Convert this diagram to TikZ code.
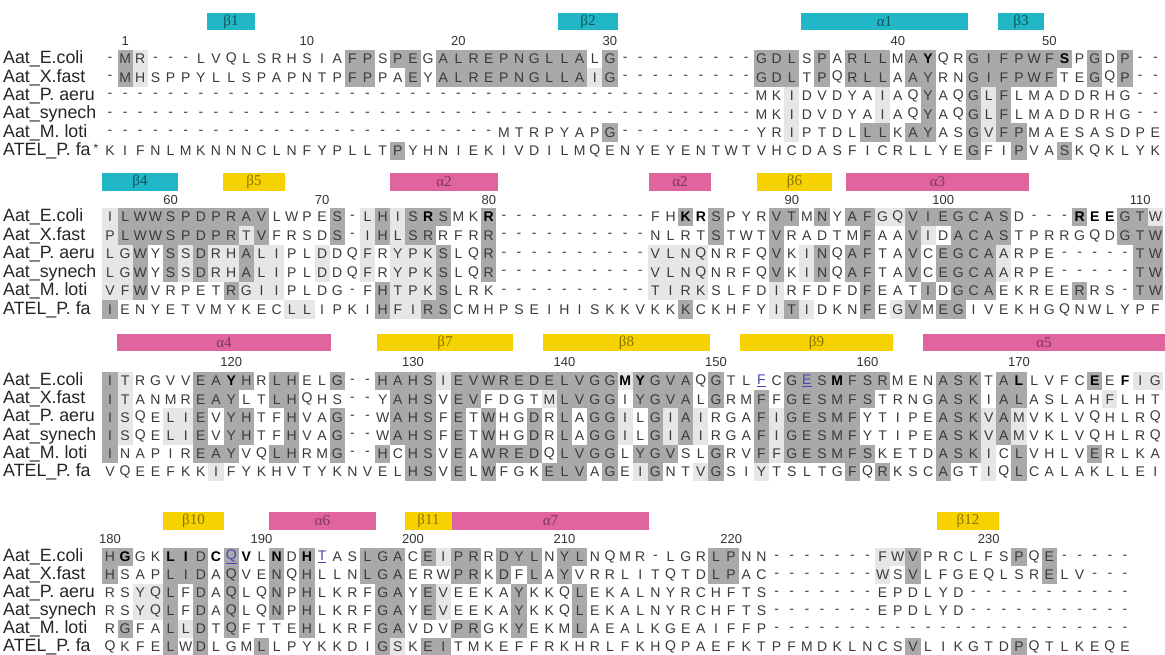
\documentclass[tikz,border=0pt]{standalone}
\usepackage{fontspec}
\setmainfont{Liberation Sans}
\newfontfamily\barfont{Liberation Serif}
\usepackage{tikz}

\definecolor{helixpink}{HTML}{E0649E}
\definecolor{strandcyan}{HTML}{22B7C6}
\definecolor{strandyellow}{HTML}{F6D300}
\definecolor{shdark}{HTML}{A9A9A9}
\definecolor{shlight}{HTML}{E6E6E6}
\definecolor{restext}{HTML}{3A3A3A}
\definecolor{markblue}{HTML}{4646B4}

\newcommand\colw{15.15}
\newcommand\xzero{110}

% one alignment row: id, y, residues, shading (0/1/2 plain, 3/4/5 bold, 6/7 blue)
\newcommand\seqrow[4]{\def\rowid{#1}\def\ry{#2}\def\cx{0}\cellloop#3\relax#4\relax}
\def\cellloop#1#2\relax#3#4\relax{%
  \pgfmathtruncatemacro\cx{\cx+1}%
  \drawcell{#1}{#3}%
  \ifx\relax#2\relax\else\cellloop#2\relax#4\relax\fi}
\newcommand\drawcell[2]{%
  \pgfmathsetmacro\px{\xzero+(\cx-1)*\colw}%
  \ifcase#2\relax
     \node[res] (\rowid-\cx) at (\px,\ry) {#1};%
  \or\node[res,fill=shlight] (\rowid-\cx) at (\px,\ry) {#1};%
  \or\node[res,fill=shdark] (\rowid-\cx) at (\px,\ry) {#1};%
  \or\node[res,resbold] (\rowid-\cx) at (\px,\ry) {#1};%
  \or\node[res,resbold,fill=shlight] (\rowid-\cx) at (\px,\ry) {#1};%
  \or\node[res,resbold,fill=shdark] (\rowid-\cx) at (\px,\ry) {#1};%
  \or\node[res,text=markblue] (\rowid-\cx) at (\px,\ry) {\underline{#1}};%
  \or\node[res,text=markblue,fill=shdark] (\rowid-\cx) at (\px,\ry) {\underline{#1}};%
  \fi}

\begin{document}
\begin{tikzpicture}
[x=1pt, y=-1pt,
 res/.style={minimum width=15.15pt, minimum height=18.4pt, inner sep=0pt, text=restext, font=\fontsize{14}{14}\selectfont},
 resbold/.style={text=black, font=\fontsize{14}{14}\selectfont\bfseries},
 seqname/.style={anchor=west, inner sep=0pt, text=black!85, font=\fontsize{17.8}{17.8}\selectfont},
 numlabel/.style={inner sep=0pt, text=black!80, font=\fontsize{13}{13}\selectfont},
 sbar/.style={minimum height=17.5pt, inner sep=0pt, font=\barfont\fontsize{15}{15}\selectfont},
 cyanbar/.style={sbar, fill=strandcyan, text=strandcyan!45!black},
 yellowbar/.style={sbar, fill=strandyellow, text=strandyellow!55!black},
 pinkbar/.style={sbar, fill=helixpink, text=helixpink!55!black}]
\fill[white] (0,0) rectangle (1165,654);
\useasboundingbox (0,0) rectangle (1165,654);

% block 1
\node[cyanbar, minimum width=48pt] (b1) at (231,21.5) {β1};
\node[cyanbar, minimum width=60pt] (b2) at (588,21.5) {β2};
\node[cyanbar, minimum width=167pt] (a1) at (884.5,21.5) {α1};
\node[cyanbar, minimum width=46pt] (b3) at (1021,21.5) {β3};
\foreach \c/\t in {2/1,14/10,24/20,34/30,53/40,63/50}
  \node[numlabel] (numA\t) at ({\xzero+(\c-1)*\colw},41) {\t};
\node[seqname] (nameA1) at (3,59) {Aat\_E.coli};
\node[seqname] (nameA2) at (3,77.4) {Aat\_X.fast};
\node[seqname] (nameA3) at (3,95.8) {Aat\_P. aeru};
\node[seqname] (nameA4) at (3,114.2) {Aat\_synech};
\node[seqname] (nameA5) at (3,132.6) {Aat\_M. loti};
\node[seqname] (nameA6) at (3,151) {ATEL\_P. fa\,\raisebox{0.3ex}{\fontsize{12}{12}\selectfont*}};
\seqrow{ecA}{59}{-MR---LVQL SRHSIAFPSP EGALREPNGL LALG------ ---GDLSPAR LLMAYQRGIF PWFSPGDP--}{0210000000 0000002202 2022222222 2202000000 0002220202 2202500222 2225020200}
\seqrow{xfA}{77.4}{-MHSPPYLLS PAPNTPFPPA EYALREPNGL LAIG------ ---GDLTPQR LLAAYRNGIF PWFTEGQP--}{0210000000 0000002200 2022222222 2212000000 0002220202 2202200222 2220020200}
\seqrow{paA}{95.8}{---------- ---------- ---------- ---------- ---MKIDVDY AIAQYAQGLF LMADDRHG--}{0000000000 0000000000 0000000000 0000000000 0000010000 0100200212 0000000000}
\seqrow{syA}{114.2}{---------- ---------- ---------- ---------- ---MKIDVDY AIAQYAQGLF LMADDRHG--}{0000000000 0000000000 0000000000 0000000000 0000010000 0100200212 0000000000}
\seqrow{mlA}{132.6}{---------- ---------- ------MTRP YAPG------ ---YRIPTDL LLKAYASGVF PMAESASDPE}{0000000000 0000000000 0000000000 0002000000 0000010000 2202200212 2000000000}
\seqrow{pfA}{151}{KIFNLMKNNN CLNFYPLLTP YHNIEKIVDI LMQENYEYEN TWTVHCDASF ICRLLYEGFI PVASKQKLYK}{0000000000 0000000002 0000000000 0000000000 0000000000 0000000200 2002000000}

% block 2
\node[cyanbar, minimum width=76pt] (b4) at (140,182) {β4};
\node[yellowbar, minimum width=62pt] (b5) at (254,182) {β5};
\node[pinkbar, minimum width=108pt] (a2) at (444,182) {α2};
\node[pinkbar, minimum width=62pt] (a2b) at (680,182) {α2};
\node[yellowbar, minimum width=75pt] (b6) at (794.5,182) {β6};
\node[pinkbar, minimum width=183pt] (a3) at (937.5,182) {α3};
\foreach \c/\t in {5/60,15/70,26/80,46/90,56/100,69/110}
  \node[numlabel] (numB\t) at ({\xzero+(\c-1)*\colw},200) {\t};
\node[seqname] (nameB1) at (3,217) {Aat\_E.coli};
\node[seqname] (nameB2) at (3,235.5) {Aat\_X.fast};
\node[seqname] (nameB3) at (3,254) {Aat\_P. aeru};
\node[seqname] (nameB4) at (3,272.5) {Aat\_synech};
\node[seqname] (nameB5) at (3,291) {Aat\_M. loti};
\node[seqname] (nameB6) at (3,309.5) {ATEL\_P. fa};
\seqrow{ecB}{217}{ILWWSPDPRA VLWPES-LHI SRSMKR---- ------FHKR SPYRVTMNYA FGQVIEGCAS D---REEGTW}{1222222222 2000020121 2520050000 0000000053 2000220202 2112222222 0000533221}
\seqrow{xfB}{235.5}{PLWWSPDPRT VFRSDS-IHL SRRFRR---- ------NLRT STWTVRADTM FAAVIDACAS TPRRGQDGTW}{1222222221 2000020121 2200020000 0000000000 2000200000 2002102222 0000000222}
\seqrow{paB}{254}{LGWYSSDRHA LIPLDDQFRY PKSLQR---- ------VLNQ NRFQVKINQA FTAVCEGCAA RPE-----TW}{1120212112 1100100101 1120020000 0000001111 0000201202 2002022221 0000000022}
\seqrow{syB}{272.5}{LGWYSSDRHA LIPLDDQFRY PKSLQR---- ------VLNQ NRFQVKINQA FTAVCEGCAA RPE-----TW}{1120212112 1100100101 1120020000 0000001111 0000201202 2002022221 0000000022}
\seqrow{mlB}{291}{VFWVRPETRG IIPLDG-FHT PKSLRK---- ------TIRK SLFDIRFDFD FEATIDGCAE KREERRS-TW}{1120000021 1100000021 1120000000 0000001111 0000100000 2000202220 0000200022}
\seqrow{pfB}{309.5}{IENYETVMYK ECLLIPKIHF IRSCMHPSEI HISKKVKKKC KHFYITIDKN FEGVMEGIVE KHGQNWLYPF}{2000000000 0011000021 1220000000 0000000020 0000121000 2012022000 0000000000}

% block 3
\node[pinkbar, minimum width=214pt] (a4) at (224,342.5) {α4};
\node[yellowbar, minimum width=136pt] (b7) at (445,342.5) {β7};
\node[yellowbar, minimum width=167pt] (b8) at (626.5,342.5) {β8};
\node[yellowbar, minimum width=153pt] (b9) at (816.5,342.5) {β9};
\node[pinkbar, minimum width=242pt] (a5) at (1044,342.5) {α5};
\foreach \c/\t in {9/120,21/130,31/140,41/150,51/160,61/170}
  \node[numlabel] (numC\t) at ({\xzero+(\c-1)*\colw},362) {\t};
\node[seqname] (nameC1) at (3,381) {Aat\_E.coli};
\node[seqname] (nameC2) at (3,399.2) {Aat\_X.fast};
\node[seqname] (nameC3) at (3,417.4) {Aat\_P. aeru};
\node[seqname] (nameC4) at (3,435.6) {Aat\_synech};
\node[seqname] (nameC5) at (3,453.8) {Aat\_M. loti};
\node[seqname] (nameC6) at (3,472) {ATEL\_P. fa};
\seqrow{ecC}{381}{ITRGVVEAYH RLHELG--HA HSIEVWREDE LVGGMYGVAQ GTLFCGESMF SRMENASKTA LLVFCEEFIG}{2100002252 0220020022 2212222222 2222452220 2006027252 2200022202 5000050311}
\seqrow{xfC}{399.2}{ITANMREAYL TLHQHS--YA HSVEVFDGTM LVGGIYGVAL GRMFFGESMF STRNGASKIA LASLAHFLHT}{2100002220 0220000002 2202200001 2222022220 2002022222 2000022202 2000001000}
\seqrow{paC}{417.4}{ISQELIEVYH TFHVAG--WA HSFETWHGDR LAGGILGIAI RGAFIGESMF YTIPEASKVA MVKLVQHLRQ}{2100112022 0020020002 2202020020 2022102121 0002122222 0000022212 1000000000}
\seqrow{syC}{435.6}{ISQELIEVYH TFHVAG--WA HSFETWHGDR LAGGILGIAI RGAFIGESMF YTIPEASKVA MVKLVQHLRQ}{2100112022 0020020002 2202020020 2022102121 0002122222 0000022212 1000000000}
\seqrow{mlC}{453.8}{INAPIREAYV QLHRMG--HC HSVEAWREDQ LVGGLYGVSL GRVFFGESMF SKETDASKIC LVHLVERLKA}{2000002220 0220020020 2202022220 2222022200 2002122222 2000022210 2000020000}
\seqrow{pfC}{472}{VQEEFKKIFY KHVTYKNVEL HSVELWFGKE LVAGEIGNTV GSIYTSLTGF QRKSCAGTIQ LCALAKLLEI}{0000000100 0000000000 2202020002 2202012001 2001000002 0200020010 2000000000}

% block 4
\node[yellowbar, minimum width=61pt] (b10) at (193.5,521) {β10};
\node[pinkbar, minimum width=107pt] (a6) at (322.5,521) {α6};
\node[yellowbar, minimum width=47pt] (b11) at (428.5,521) {β11};
\node[pinkbar, minimum width=197pt] (a7) at (550.5,521) {α7};
\node[yellowbar, minimum width=62pt] (b12) at (968,521) {β12};
\foreach \c/\t in {1/180,11/190,21/200,31/210,42/220,59/230}
  \node[numlabel] (numD\t) at ({\xzero+(\c-1)*\colw},539) {\t};
\node[seqname] (nameD1) at (3,557) {Aat\_E.coli};
\node[seqname] (nameD2) at (3,575) {Aat\_X.fast};
\node[seqname] (nameD3) at (3,593) {Aat\_P. aeru};
\node[seqname] (nameD4) at (3,611) {Aat\_synech};
\node[seqname] (nameD5) at (3,629) {Aat\_M. loti};
\node[seqname] (nameD6) at (3,647) {ATEL\_P. fa};
\seqrow{ecD}{557}{HGGKLIDCQV LNDHTASLGA CEIPRRDYLN YLNQMR-LGR LPNN------ -FWVPRCLFS PQE-----}{2500552373 0505600222 0212202220 2200000000 2200000000 0112000000 20200000}
\seqrow{xfD}{575}{HSAPLIDAQV ENQHLLNLGA ERWPRKDFLA YVRRLITQTD LPAC------ -WSVLFGEQL SRELV---}{2000222020 0202000222 0002202020 2000000000 2200000000 0102000000 00200000}
\seqrow{paD}{593}{RSYQLFDAQL QNPHLKRFGA YEVEEKAYKK QLEKALNYRC HFTS------ -EPDLYD--- --------}{0011202020 0202000022 0210000200 0200000000 0000000000 0000000000 00000000}
\seqrow{syD}{611}{RSYQLFDAQL QNPHLKRFGA YEVEEKAYKK QLEKALNYRC HFTS------ -EPDLYD--- --------}{0011202020 0202000022 0210000200 0200000000 0000000000 0000000000 00000000}
\seqrow{mlD}{629}{RGFALLDTQF TTEHLKRFGA VDVPRGKYEK MLAEALKGEA IFFP------ ---------- --------}{0200212020 0002000022 0002200200 0200000000 0000000000 0000000000 00000000}
\seqrow{pfD}{647}{QKFELWDLGM LLPYKKDIGS KEITMKEFFR KHRLFKHQPA EFKTPFMDKL NCSVLIKGTD PQTLKEQE}{0000202000 2000000021 0220000000 0000000000 0000000000 0002000000 20000000}
\end{tikzpicture}
\end{document}
